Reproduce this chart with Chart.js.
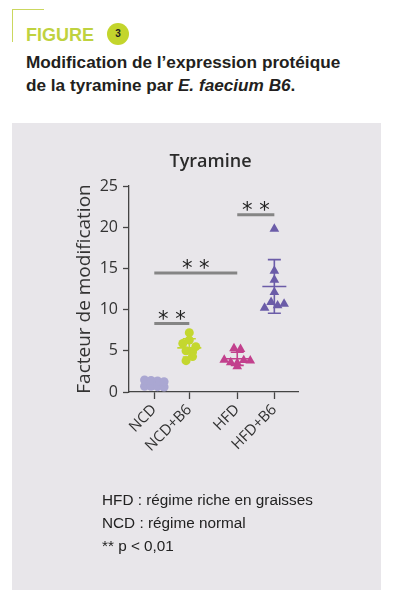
<!DOCTYPE html>
<html><head><meta charset="utf-8">
<script src="https://cdn.jsdelivr.net/npm/chart.js@4/dist/chart.umd.min.js"></script>
<style>
html,body{margin:0;padding:0;background:#fff;width:397px;height:607px;overflow:hidden;font-family:"Liberation Sans",Arial,sans-serif;}
#bh{position:absolute;left:12px;top:9px;width:32px;height:1px;background:#cbd75e}
#bv{position:absolute;left:12px;top:9px;width:1px;height:33px;background:#cbd75e}
#fig{position:absolute;left:26px;top:25px;font-weight:bold;font-size:18px;line-height:20px;color:#bfd23f}
#num{position:absolute;left:107px;top:23px;width:22px;height:22px;border-radius:50%;background:#c3d52c;color:#222;font-weight:bold;font-size:10px;text-align:center;line-height:22px}
#title{position:absolute;left:26px;top:51px;font-weight:bold;font-size:17.2px;line-height:22.5px;color:#231f20;white-space:nowrap}
#box{position:absolute;left:12px;top:123px;width:369px;height:467px;background:#e8e6ea}
#chart{position:absolute;left:0;top:0;width:369px;height:467px}
#notes{position:absolute;left:90px;top:365px;font-size:15.3px;line-height:23px;color:#222;white-space:nowrap}
</style></head>
<body>
<div id="bh"></div><div id="bv"></div>
<div id="fig">FIGURE</div><div id="num">3</div>
<div id="title">Modification de l’expression protéique<br>de la tyramine par <i>E. faecium B6</i>.</div>
<div id="box">
<canvas id="chart" width="369" height="467"></canvas>
<div id="notes">HFD : régime riche en graisses<br>NCD : régime normal<br>** p &lt; 0,01</div>
</div>
<script>
// ---- data ----
const GROUPS = ['NCD', 'NCD+B6', 'HFD', 'HFD+B6'];
const NCD = [0.7, 1.45, 0.7, 1.4, 0.65, 1.35, 0.6, 1.25];
const NCD_B6 = [7.2, 5.9, 6.3, 5.5, 5.0, 4.85, 3.8, 4.3];
const HFD = [5.3, 5.2, 3.9, 3.6, 3.1, 3.5, 3.85, 3.8];
const HFD_B6 = [19.8, 14.7, 13.6, 12.1, 10.2, 10.9, 10.5, 10.7];
const Y_TICKS = [0, 5, 10, 15, 20, 25];
const CHART_TITLE = 'Tyramine';
const Y_TITLE = 'Facteur de modification';
const SIG_FROM = [0, 0, 2];
const SIG_TO = [1, 2, 3];
const SIG_Y = [8.3, 14.45, 21.5];
const SIG_LABEL = ['* *', '* *', '* *'];

// ---- layout / style ----
const GROUP_POS = [1, 2, 3.37, 4.43];
const X_MIN = 0.277, X_MAX = 5.106;
const COLORS = ['#aaa7d2', '#c4d72f', '#c2408d', '#6b5ca8'];
const STYLES = ['circle', 'circle', 'triangle', 'triangle'];
const RADII = [4.5, 4.5, 5.6, 5.6];
const SERIES = [NCD, NCD_B6, HFD, HFD_B6];

// Prism-like scatter: points binned into rows, each row spread symmetrically
function swarm(values, center) {
  const pxX = 35, pxY = 8.24, binH = 9, w = 6.5;
  const bins = {};
  values.forEach((v, i) => { const b = Math.floor(v * pxY / binH); (bins[b] = bins[b] || []).push(i); });
  const out = new Array(values.length);
  Object.values(bins).forEach(list => {
    list.forEach((i, j) => {
      const dx = (j - (list.length - 1) / 2) * w;
      out[i] = {x: center + dx / pxX, y: values[i]};
    });
  });
  return out;
}
function stats(v) {
  const m = v.reduce((a, b) => a + b, 0) / v.length;
  const sd = Math.sqrt(v.reduce((a, b) => a + (b - m) * (b - m), 0) / (v.length - 1));
  return {m, sd};
}

const datasets = SERIES.map((vals, g) => ({
  label: GROUPS[g],
  data: swarm(vals, GROUP_POS[g]),
  pointStyle: STYLES[g],
  pointRadius: RADII[g],
  backgroundColor: COLORS[g],
  borderColor: COLORS[g],
  borderWidth: 0
}));

const extras = {
  id: 'extras',
  afterDatasetsDraw(chart) {
    const {ctx, chartArea, scales: {x, y}} = chart;
    ctx.save();
    SERIES.forEach((vals, g) => {
      const {m, sd} = stats(vals);
      const cx = x.getPixelForValue(GROUP_POS[g]);
      const yt = y.getPixelForValue(m + sd), yb = y.getPixelForValue(m - sd), ym = y.getPixelForValue(m);
      ctx.strokeStyle = COLORS[g]; ctx.lineWidth = 1.6;
      ctx.beginPath();
      ctx.moveTo(cx, yt); ctx.lineTo(cx, yb);
      ctx.moveTo(cx - 6.5, yt); ctx.lineTo(cx + 6.5, yt);
      ctx.moveTo(cx - 6.5, yb); ctx.lineTo(cx + 6.5, yb);
      ctx.moveTo(cx - 12, ym); ctx.lineTo(cx + 12, ym);
      ctx.stroke();
    });
    SIG_Y.forEach((v, i) => {
      const x1 = x.getPixelForValue(GROUP_POS[SIG_FROM[i]]);
      const x2 = x.getPixelForValue(GROUP_POS[SIG_TO[i]]);
      const yy = y.getPixelForValue(v);
      ctx.strokeStyle = '#858585'; ctx.lineWidth = 3;
      ctx.beginPath(); ctx.moveTo(x1, yy); ctx.lineTo(x2, yy); ctx.stroke();
      ctx.fillStyle = '#222'; ctx.font = '21px "DejaVu Sans"';
      ctx.textAlign = 'center'; ctx.textBaseline = 'alphabetic';
      ctx.fillText(SIG_LABEL[i], (x1 + x2) / 2, yy + 2);
    });
    ctx.fillStyle = '#2b2b2b'; ctx.font = '600 18px "Open Sans"';
    ctx.textAlign = 'center'; ctx.textBaseline = 'alphabetic';
    ctx.fillText(CHART_TITLE, (chartArea.left + chartArea.right) / 2 - 3, chartArea.top - 19);
    ctx.restore();
  }
};

new Chart(document.getElementById('chart'), {
  type: 'scatter',
  data: {datasets},
  plugins: [extras],
  options: {
    responsive: false, animation: false, devicePixelRatio: 1,
    layout: {padding: {left: 0, top: 63, right: 83, bottom: 0}},
    plugins: {legend: {display: false}, tooltip: {enabled: false}},
    scales: {
      x: {
        type: 'linear', min: X_MIN, max: X_MAX,
        afterBuildTicks: s => { s.ticks = GROUP_POS.map(v => ({value: v})); },
        afterFit: s => { s.height = 198; },
        ticks: {
          autoSkip: false, maxRotation: 45, minRotation: 45, padding: 2,
          color: '#333', font: {family: '"Open Sans"', size: 15},
          callback: (v, i) => GROUPS[i]
        },
        grid: {display: true, drawOnChartArea: false, drawTicks: true, tickLength: 7, tickColor: '#444', tickWidth: 1.3},
        border: {display: true, color: '#444', width: 1.3}
      },
      y: {
        min: 0, max: 25,
        afterBuildTicks: s => { s.ticks = Y_TICKS.map(v => ({value: v})); },
        afterFit: s => { s.width = 117; },
        ticks: {padding: 5, color: '#333', font: {family: '"Open Sans"', size: 16}},
        title: {display: true, text: Y_TITLE, color: '#333', font: {family: '"Open Sans"', size: 19}, padding: {top: 61, bottom: 0}},
        grid: {display: true, drawOnChartArea: false, drawTicks: true, tickLength: 6, tickColor: '#444', tickWidth: 1.3},
        border: {display: true, color: '#444', width: 1.3}
      }
    }
  }
});
</script>
</body></html>
